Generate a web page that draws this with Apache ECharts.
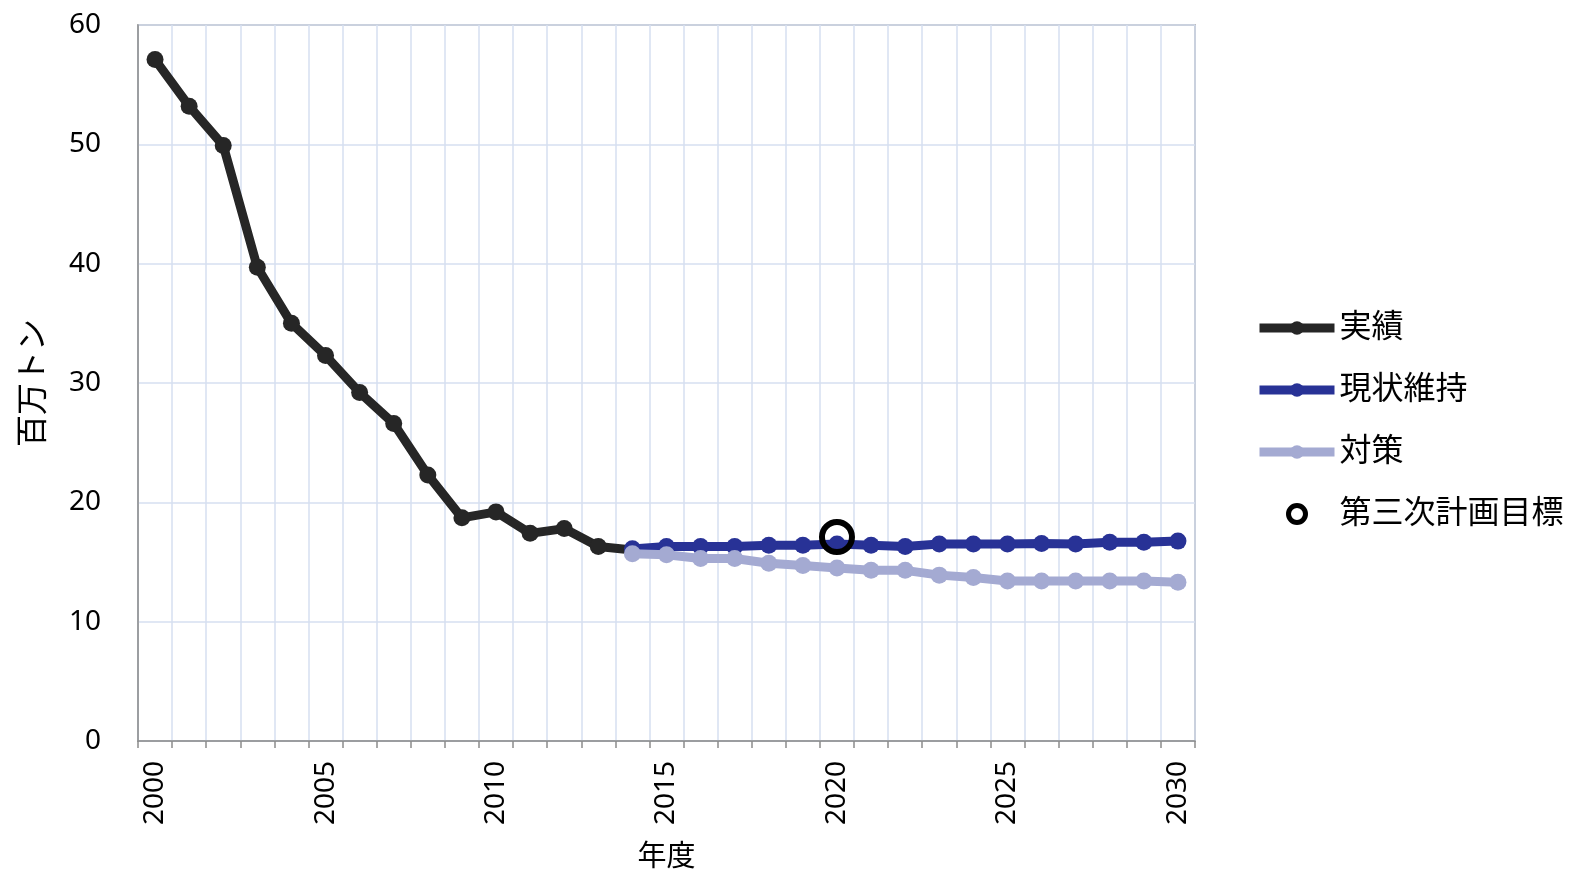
<!DOCTYPE html>
<html>
<head>
<meta charset="utf-8">
<script src="https://cdn.jsdelivr.net/npm/echarts@6/dist/echarts.min.js"></script>
<style>html,body{margin:0;padding:0;background:#fff}#c{width:1574px;height:874px}</style>
</head>
<body>
<div id="c"></div>
<script>
const years = [];
for (let y = 2000; y <= 2030; y++) years.push(String(y));
const actual = [57.1, 53.2, 49.9, 39.7, 35.0, 32.3, 29.2, 26.6, 22.3, 18.7, 19.2, 17.4, 17.8, 16.3, 16.0];
const baseline = [null, null, null, null, null, null, null, null, null, null, null, null, null, null,
  16.1, 16.3, 16.3, 16.3, 16.4, 16.4, 16.5, 16.4, 16.3, 16.5, 16.5, 16.5, 16.55, 16.5, 16.65, 16.65, 16.75];
const measures = [null, null, null, null, null, null, null, null, null, null, null, null, null, null,
  15.7, 15.6, 15.3, 15.3, 14.9, 14.7, 14.5, 14.3, 14.3, 13.9, 13.7, 13.4, 13.4, 13.4, 13.4, 13.4, 13.3];
const targetYear = '2020';
const targetValue = 17.1;
const yTicks = { min: 0, max: 60, interval: 10 };

const FONT = "'Noto Sans', 'Noto Sans CJK JP', sans-serif";
const chart = echarts.init(document.getElementById('c'));
chart.setOption({
  animation: false,
  backgroundColor: '#ffffff',
  grid: { left: 138, right: 379, top: 25, bottom: 133, show: true, borderColor: '#8c8c8c', borderWidth: 1.5,
          containLabel: false, outerBoundsMode: 'none' },
  legend: {
    orient: 'vertical', left: 1250, top: 307,
    itemWidth: 75, itemHeight: 17, itemGap: 30,
    lineStyle: { width: 9 },
    textStyle: { fontFamily: FONT, fontSize: 32, color: '#000', lineHeight: 32 },
    data: ['実績', '現状維持', '対策',
      { name: '第三次計画目標', itemStyle: { color: 'rgba(0,0,0,0)', borderColor: '#000', borderWidth: 5, opacity: 1 } }]
  },
  xAxis: {
    type: 'category', data: years, boundaryGap: true,
    name: '年度', nameLocation: 'middle', nameGap: 102, nameMoveOverlap: false,
    nameTextStyle: { fontFamily: FONT, fontSize: 29, color: '#000' },
    axisLine: { lineStyle: { color: '#8c8c8c', width: 1.5 } },
    axisTick: { show: true, interval: 0, length: 7, lineStyle: { color: '#8c8c8c', width: 1.5 } },
    axisLabel: { interval: 4, rotate: 90, margin: 20, fontFamily: FONT, fontSize: 28, color: '#000' },
    splitLine: { show: true, interval: 0, lineStyle: { color: '#d6dff1', width: 1.5 } }
  },
  yAxis: {
    type: 'value', min: yTicks.min, max: yTicks.max, interval: yTicks.interval,
    name: '百万トン', nameLocation: 'middle', nameGap: 88, nameMoveOverlap: false,
    nameTextStyle: { fontFamily: FONT, fontSize: 32, color: '#000' },
    axisLine: { show: true, lineStyle: { color: '#8c8c8c', width: 1.5 } },
    axisTick: { show: false },
    axisLabel: { margin: 37, fontFamily: FONT, fontSize: 28, color: '#000' },
    splitLine: { show: true, lineStyle: { color: '#d6dff1', width: 1.5 } }
  },
  series: [
    { name: '実績', type: 'line', data: actual, symbol: 'circle', symbolSize: 17,
      lineStyle: { color: '#262626', width: 9 }, itemStyle: { color: '#262626' }, z: 2 },
    { name: '現状維持', type: 'line', data: baseline, symbol: 'circle', symbolSize: 17,
      lineStyle: { color: '#283296', width: 9 }, itemStyle: { color: '#283296' }, z: 3 },
    { name: '対策', type: 'line', data: measures, symbol: 'circle', symbolSize: 17,
      lineStyle: { color: '#a4aad2', width: 9 }, itemStyle: { color: '#a4aad2' }, z: 4 },
    { name: '第三次計画目標', type: 'scatter', data: [[targetYear, targetValue]], symbol: 'circle', symbolSize: 30,
      itemStyle: { color: 'rgba(0,0,0,0)', borderColor: '#000', borderWidth: 6, opacity: 1 }, z: 5 }
  ]
});
</script>
</body>
</html>
